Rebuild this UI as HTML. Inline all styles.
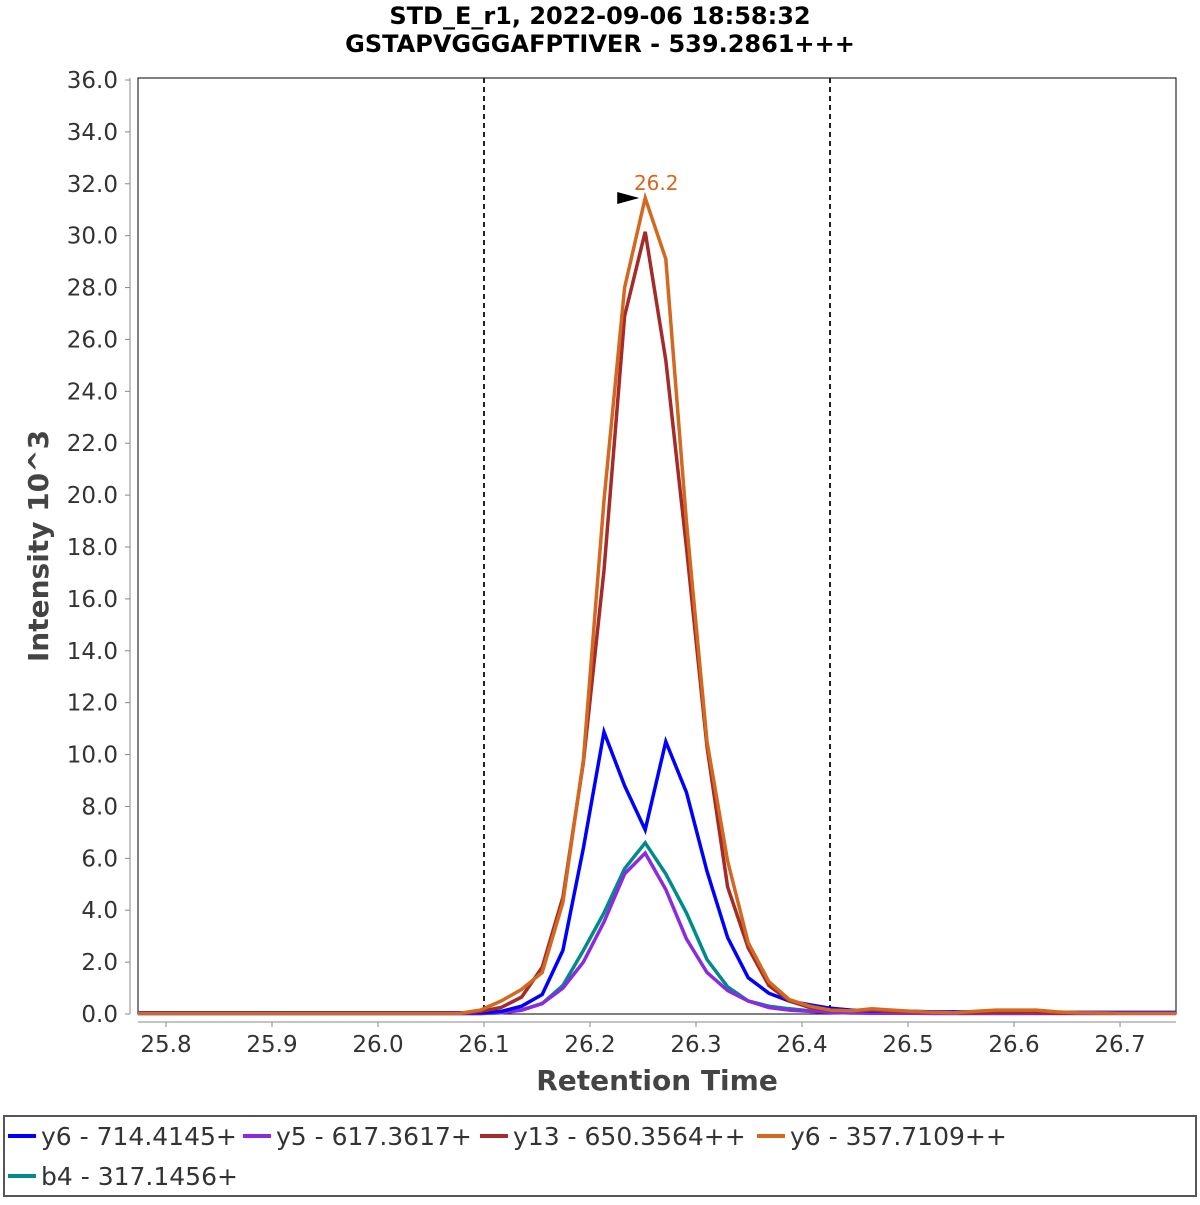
<!DOCTYPE html>
<html><head><meta charset="utf-8"><style>
body{margin:0;background:#fff;}
svg text{font-family:"DejaVu Sans","Liberation Sans",sans-serif;}
</style></head><body>
<svg id="chart" width="1200" height="1200" xmlns="http://www.w3.org/2000/svg">
<rect x="0" y="0" width="1200" height="1200" fill="#fff"/>
<text x="600" y="24" text-anchor="middle" font-size="24" font-weight="bold" fill="#000">STD_E_r1, 2022-09-06 18:58:32</text>
<text x="600" y="52" text-anchor="middle" font-size="24" font-weight="bold" fill="#000">GSTAPVGGGAFPTIVER - 539.2861+++</text>
<rect x="138" y="78" width="1038" height="936" fill="#fff" stroke="#000" stroke-width="1"/>
<g id="yaxis"></g>
<g id="xaxis"></g>
<g id="bounds"></g>
<g id="series"></g>
<text transform="translate(48,546) rotate(-90)" text-anchor="middle" font-size="28" font-weight="bold" fill="#444">Intensity 10^3</text>
<text x="657" y="1090" text-anchor="middle" font-size="28" font-weight="bold" fill="#444">Retention Time</text>
<rect x="4" y="1116" width="1192" height="80" fill="#fff" stroke="#555" stroke-width="2"/>
<g id="legend"></g>
</svg>
<script>
const yTicks=[0,2,4,6,8,10,12,14,16,18,20,22,24,26,28,30,32,34,36];
const xTicks=[25.8,25.9,26.0,26.1,26.2,26.3,26.4,26.5,26.6,26.7];
const boundaries=[26.1,26.4264];
const seriesNames=["y6 - 714.4145+","y5 - 617.3617+","y13 - 650.3564++","y6 - 357.7109++","b4 - 317.1456+"];
const seriesColors=["#0000ff","#8a2be2","#a52a2a","#d2691e","#008b8b"];
const times=[25.7736,25.8051,25.8246,25.8440,25.8634,25.8829,25.9023,25.9217,25.9412,25.9606,25.9800,25.9995,26.0189,26.0383,26.0578,26.0772,26.0966,26.1161,26.1355,26.1549,26.1744,26.1938,26.2132,26.2326,26.2521,26.2715,26.2909,26.3104,26.3298,26.3492,26.3687,26.3881,26.4075,26.4270,26.4464,26.4658,26.4853,26.5047,26.5241,26.5436,26.5630,26.5824,26.6019,26.6213,26.6407,26.6602,26.6796,26.6990,26.7185,26.7379,26.7573];
const blue=[0.05,0.05,0.05,0.05,0.05,0.05,0.05,0.05,0.05,0.05,0.05,0.05,0.05,0.05,0.05,0.05,0.05,0.1,0.3,0.75,2.45,6.4,10.87,8.8,7.1,10.5,8.55,5.5,2.95,1.4,0.8,0.5,0.35,0.22,0.15,0.12,0.12,0.1,0.08,0.08,0.08,0.08,0.08,0.06,0.06,0.06,0.06,0.06,0.06,0.06,0.06];
const purple=[0.02,0.02,0.02,0.02,0.02,0.02,0.02,0.02,0.02,0.02,0.02,0.02,0.02,0.02,0.02,0.02,0.02,0.05,0.15,0.4,1.0,2.0,3.55,5.4,6.2,4.8,2.9,1.6,0.9,0.5,0.25,0.15,0.1,0.06,0.04,0.03,0.03,0.03,0.02,0.02,0.02,0.02,0.02,0.02,0.02,0.02,0.02,0.02,0.02,0.02,0.02];
const red=[0.03,0.03,0.03,0.03,0.03,0.03,0.03,0.03,0.03,0.03,0.03,0.03,0.03,0.03,0.03,0.03,0.1,0.25,0.65,1.8,4.5,9.7,17.1,26.9,30.15,25.2,18.0,10.3,4.9,2.55,1.1,0.5,0.25,0.15,0.12,0.15,0.1,0.08,0.06,0.05,0.05,0.06,0.06,0.05,0.04,0.04,0.04,0.03,0.03,0.03,0.03];
const orange=[0.03,0.03,0.03,0.03,0.03,0.03,0.03,0.03,0.03,0.03,0.03,0.03,0.03,0.03,0.03,0.03,0.15,0.5,0.95,1.6,4.3,9.8,19.8,28.0,31.45,29.1,19.0,10.5,5.9,2.75,1.25,0.55,0.3,0.15,0.12,0.2,0.15,0.1,0.06,0.05,0.1,0.15,0.15,0.15,0.08,0.05,0.04,0.03,0.03,0.03,0.03];
const teal=[0.02,0.02,0.02,0.02,0.02,0.02,0.02,0.02,0.02,0.02,0.02,0.02,0.02,0.02,0.02,0.02,0.02,0.05,0.15,0.4,1.1,2.45,3.9,5.6,6.6,5.4,3.9,2.1,1.05,0.5,0.3,0.2,0.12,0.08,0.06,0.05,0.04,0.03,0.03,0.03,0.03,0.03,0.03,0.03,0.03,0.03,0.03,0.03,0.03,0.03,0.03];
const peakLabel="26.2";

const NS="http://www.w3.org/2000/svg";
const PL=138,PR=1176,PT=78,PB=1014;
const X0=25.7736,X1=26.7528,Y0=0,Y1=36;
function xs(t){return PL+(t-X0)/(X1-X0)*(PR-PL);}
function ys(v){return PB-(v-Y0)/(Y1-Y0)*(PB-PT-2);}
function mk(tag,attrs,parent){const e=document.createElementNS(NS,tag);for(const k in attrs)e.setAttribute(k,attrs[k]);parent.appendChild(e);return e;}

const ya=document.getElementById('yaxis');
let l=mk('line',{x1:130,y1:PT,x2:130,y2:PB,stroke:'#888','stroke-width':1},ya);


yTicks.forEach(v=>{
  const y=ys(v);
  const tk=mk('line',{x1:125,y1:y,x2:130,y2:y,stroke:'#888'},ya);
  
  
  const t=mk('text',{x:118,y:y+8,'text-anchor':'end','font-size':23,fill:'#333'},ya);
  t.textContent=v.toFixed(1);
  
  
});
const xa=document.getElementById('xaxis');
l=mk('line',{x1:PL,y1:1022,x2:PR,y2:1022,stroke:'#888','stroke-width':1},xa);


xTicks.forEach(v=>{
  const x=xs(v);
  const tk=mk('line',{x1:x,y1:1022,x2:x,y2:1027,stroke:'#888'},xa);
  
  
  const t=mk('text',{x:x,y:1052,'text-anchor':'middle','font-size':23,fill:'#333'},xa);
  t.textContent=v.toFixed(1);
  
  
});
const bd=document.getElementById('bounds');
boundaries.forEach(b=>{
  const ln=mk('line',{x1:xs(b),y1:PT,x2:xs(b),y2:PB,stroke:'#222','stroke-width':2,'stroke-dasharray':'5,4'},bd);
  
  
});
const sg=document.getElementById('series');
const cp=mk('clipPath',{id:'clip'},sg);
mk('rect',{x:PL,y:PT,width:PR-PL,height:PB-PT+2},cp);
const data=[blue,purple,red,orange,teal];
const order=[4,1,0,2,3];
order.forEach(i=>{
  const pts=times.map((t,k)=>xs(t).toFixed(1)+','+ys(data[i][k]).toFixed(1)).join(' ');
  const p=mk('polyline',{points:pts,fill:'none',stroke:seriesColors[i],'stroke-width':3.5,'stroke-linejoin':'miter','clip-path':'url(#clip)'},sg);
  
  
});
let pk=0;orange.forEach((v,k)=>{if(v>orange[pk])pk=k;});
const px=xs(times[pk]),py=ys(orange[pk]);
const ar=mk('polygon',{points:(px-28)+','+(py-6)+' '+(px-6)+','+py+' '+(px-28)+','+(py+6),fill:'#000'},sg);


const pl=mk('text',{x:px+11,y:py-8,'text-anchor':'middle','font-size':20,fill:'#d2691e'},sg);
pl.textContent=peakLabel;



const lg=document.getElementById('legend');
const pos=[[8,1136],[243,1136],[480,1136],[757,1136],[8,1176]];
seriesNames.forEach((n,i)=>{
  const g=mk('g',{},lg);
  
  
  mk('line',{x1:pos[i][0],y1:pos[i][1],x2:pos[i][0]+28,y2:pos[i][1],stroke:seriesColors[i],'stroke-width':4},g);
  const t=mk('text',{x:pos[i][0]+33,y:pos[i][1]+9,'font-size':25,fill:'#333'},g);
  t.textContent=n;
});
</script>
</body></html>
